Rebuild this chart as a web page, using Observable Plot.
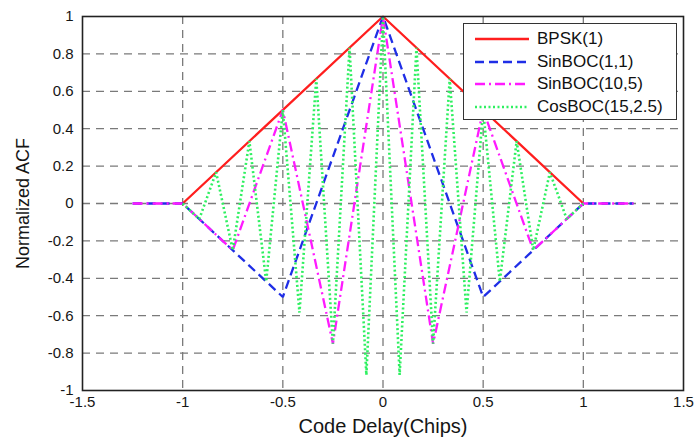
<!DOCTYPE html>
<html><head><meta charset="utf-8">
<script src="https://cdn.jsdelivr.net/npm/d3@7"></script>
<script src="https://cdn.jsdelivr.net/npm/@observablehq/plot@0.6"></script>
<style>
body{margin:0;background:#fff;font-family:"Liberation Sans",Arial,sans-serif;}
#wrap{position:relative;width:695px;height:439px;}
#legend{position:absolute;left:463px;top:23px;width:214px;height:97px;border:1.4px solid #333;background:#fff;box-sizing:border-box;}
.row{position:absolute;left:11px;height:20px;display:flex;align-items:center;font-size:17px;color:#111;}
.row svg{margin-right:8px;}
</style></head><body>
<div id="wrap"><div id="chart"></div><div id="legend"></div></div>
<script>
// data
const bpskX = [-1, 0, 1];
const bpskY = [0, 1, 0];
const sinboc11X = [-1.25, -1, -0.5, 0, 0.5, 1, 1.25];
const sinboc11Y = [0, 0, -0.5, 1, -0.5, 0, 0];
const sinboc105X = [-1.25, -1, -0.75, -0.5, -0.25, 0, 0.25, 0.5, 0.75, 1, 1.25];
const sinboc105Y = [0, 0, -0.25, 0.5, -0.75, 1, -0.75, 0.5, -0.25, 0, 0];
const cosbocX = [-1, -0.917, -0.833, -0.75, -0.667, -0.583, -0.5, -0.417, -0.333, -0.25, -0.167, -0.083, 0,
                 0.083, 0.167, 0.25, 0.333, 0.417, 0.5, 0.583, 0.667, 0.75, 0.833, 0.917, 1];
const cosbocY = [0, -0.083, 0.167, -0.25, 0.333, -0.417, 0.5, -0.583, 0.667, -0.75, 0.833, -0.917, 1,
                 -0.917, 0.833, -0.75, 0.667, -0.583, 0.5, -0.417, 0.333, -0.25, 0.167, -0.083, 0];
const xTicks = [-1.5, -1, -0.5, 0, 0.5, 1, 1.5];
const xTickLabels = ["-1.5", "-1", "-0.5", "0", "0.5", "1", "1.5"];
const yTicks = [-1, -0.8, -0.6, -0.4, -0.2, 0, 0.2, 0.4, 0.6, 0.8, 1];
const yTickLabels = ["-1", "-0.8", "-0.6", "-0.4", "-0.2", "0", "0.2", "0.4", "0.6", "0.8", "1"];
const seriesNames = ["BPSK(1)", "SinBOC(1,1)", "SinBOC(10,5)", "CosBOC(15,2.5)"];

const styles = [
  {stroke: "#ff1e1e", dash: null},
  {stroke: "#1f2ee6", dash: "9,5"},
  {stroke: "#ff1aff", dash: "10,4,2,4"},
  {stroke: "#2ef060", dash: "2,2.5"}
];
const mk = (xs, ys) => xs.map((x, i) => ({x, y: ys[i]}));
const series = [mk(bpskX, bpskY), mk(sinboc11X, sinboc11Y), mk(sinboc105X, sinboc105Y), mk(cosbocX, cosbocY)];

const gridInnerX = xTicks.slice(1, -1);
const gridInnerY = yTicks.slice(1, -1);

const chart = Plot.plot({
  width: 695, height: 439,
  marginLeft: 82, marginRight: 12, marginTop: 16, marginBottom: 49,
  style: {fontFamily: "Liberation Sans, Arial, sans-serif", background: "#fff"},
  x: {domain: [-1.5, 1.5]},
  y: {domain: [-1, 1]},
  marks: [
    Plot.gridX(gridInnerX, {stroke: "#7a7a7a", strokeOpacity: 1, strokeDasharray: "8,6", strokeWidth: 1.3}),
    Plot.gridY(gridInnerY, {stroke: "#7a7a7a", strokeOpacity: 1, strokeDasharray: "8,6", strokeWidth: 1.3}),
    ...series.map((d, i) => Plot.line(d, {x: "x", y: "y", stroke: styles[i].stroke, strokeWidth: i === 3 ? 2.6 : 2.3,
      strokeDasharray: styles[i].dash, strokeLinejoin: "miter", strokeLinecap: "butt"})),
    Plot.frame({stroke: "#222", strokeWidth: 1.6}),
    Plot.axisX({ticks: xTicks, tickFormat: (d, i) => xTickLabels[i], tickSize: 0, tickPadding: 6,
      fontSize: 15, fill: "#151515", label: null}),
    Plot.axisY({ticks: yTicks, tickFormat: (d, i) => yTickLabels[i], tickSize: 0, tickPadding: 9,
      fontSize: 15, fill: "#151515", label: null}),
    Plot.text(["Code Delay(Chips)"], {frameAnchor: "bottom", lineAnchor: "middle", dy: 36, fontSize: 20, fill: "#151515", text: d => d}),
    Plot.text(["Normalized ACF"], {frameAnchor: "left", dx: -59, rotate: -90, textAnchor: "middle", fontSize: 18, fill: "#151515", text: d => d})
  ]
});
document.getElementById("chart").appendChild(chart);

const leg = document.getElementById("legend");
seriesNames.forEach((name, i) => {
  const row = document.createElement("div");
  row.className = "row";
  row.style.top = (5 + i * 22.7) + "px";
  const dash = styles[i].dash ? `stroke-dasharray="${styles[i].dash}"` : "";
  row.innerHTML = `<svg width="54" height="10"><line x1="0" y1="5" x2="54" y2="5" stroke="${styles[i].stroke}" stroke-width="2.4" ${dash}/></svg><span>${name}</span>`;
  leg.appendChild(row);
});
</script>
</body></html>
